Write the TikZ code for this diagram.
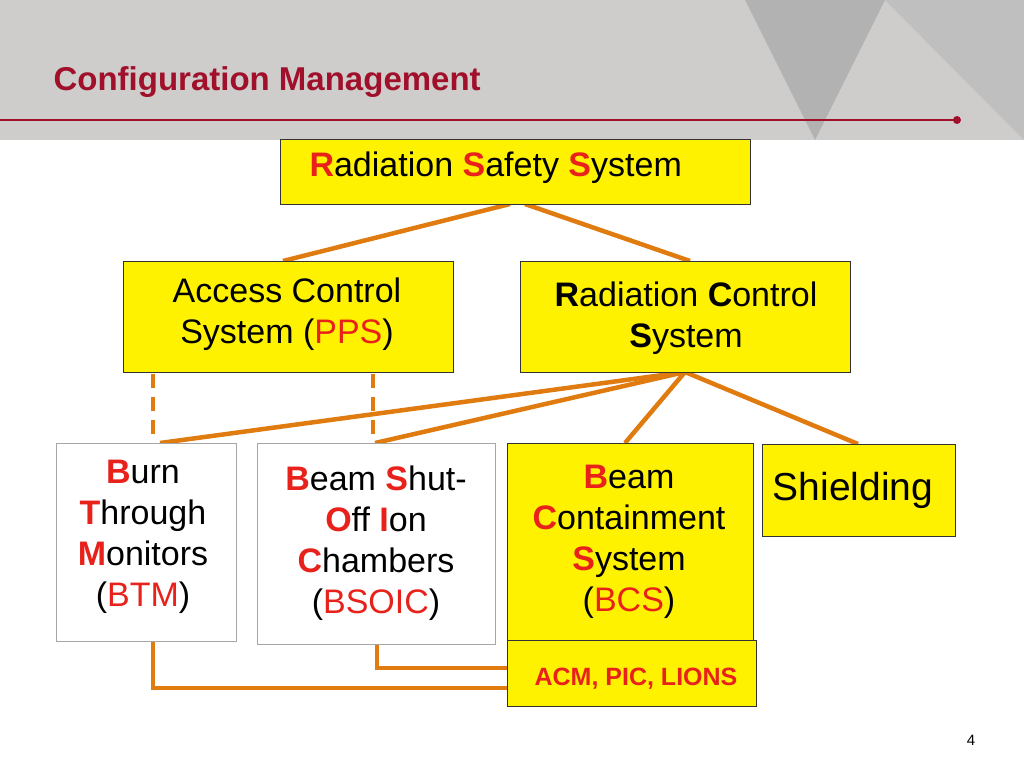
\documentclass[tikz,border=0pt]{standalone}
\usepackage{fontspec}
\setmainfont{Liberation Sans}
\definecolor{org}{HTML}{E07B10}
\definecolor{rd}{HTML}{A0102A}
\definecolor{hl}{HTML}{E8221B}
\definecolor{band}{HTML}{CFCDCC}
\begin{document}
\begin{tikzpicture}[x=1pt,y=-1pt,
 ybox/.style={draw=black!80,fill=yellow,line width=0.8pt},
 wbox/.style={draw=black!35,fill=white,line width=0.8pt},
 con/.style={draw=org,line width=4.5pt},
 txt/.style={font=\fontsize{34}{41}\selectfont,align=center}]
\useasboundingbox (0,0) rectangle (1024,768);
\fill[band] (0,0) rectangle (1024,140);
\fill[black!30] (745,0) -- (885,0) -- (815,140) -- cycle;
\fill[black!25] (885,0) -- (1024,0) -- (1024,140) -- cycle;
\node[anchor=west,text=rd,font=\fontsize{33}{40}\selectfont\bfseries] (title) at (50,82) {Configuration Management};
\draw[rd,line width=1.5pt] (0,120) -- (957,120);
\fill[rd] (957,120) circle (4);
% connectors
\draw[con] (510,204) -- (283,261);
\draw[con] (525,204) -- (690,261);
\draw[con] (685,372) -- (160,443);
\draw[con] (685,372) -- (375,443);
\draw[con] (685,372) -- (625,443);
\draw[con] (685,372) -- (858,444);
\draw[con,dash pattern=on 14pt off 9pt] (153,374) -- (153,443);
\draw[con,dash pattern=on 14pt off 9pt] (373,374) -- (373,443);
\draw[con] (153,641) -- (153,688) -- (510,688);
\draw[con] (377,644) -- (377,668) -- (510,668);
% boxes
\draw[ybox] (280,139) rectangle (750,204);
\node[anchor=west,font=\fontsize{34}{41}\selectfont] (rss) at (306,168) {\textcolor{hl}{\textbf{R}}adiation \textcolor{hl}{\textbf{S}}afety \textcolor{hl}{\textbf{S}}ystem};
\draw[ybox] (123,261) rectangle (453,372);
\node[txt] (acs) at (287,314) {Access Control\\System (\textcolor{hl}{PPS})};
\draw[ybox] (520,261) rectangle (850,372);
\node[txt] (rcs) at (686,318) {\textbf{R}adiation \textbf{C}ontrol\\\textbf{S}ystem};
\draw[wbox] (56,443) rectangle (236,641);
\node[txt,anchor=north] (btm) at (143,457) {\textcolor{hl}{\textbf{B}}urn\\\textcolor{hl}{\textbf{T}}hrough\\\textcolor{hl}{\textbf{M}}onitors\\(\textcolor{hl}{BTM})};
\draw[wbox] (257,443) rectangle (495,644);
\node[txt,anchor=north] (bsoic) at (376,462) {\textcolor{hl}{\textbf{B}}eam \textcolor{hl}{\textbf{S}}hut-\\\textcolor{hl}{\textbf{O}}ff \textcolor{hl}{\textbf{I}}on\\\textcolor{hl}{\textbf{C}}hambers\\(\textcolor{hl}{BSOIC})};
\draw[ybox] (507,443) rectangle (753,641);
\node[txt,anchor=north] (bcs) at (629,462) {\textcolor{hl}{\textbf{B}}eam\\\textcolor{hl}{\textbf{C}}ontainment\\\textcolor{hl}{\textbf{S}}ystem\\(\textcolor{hl}{BCS})};
\draw[ybox] (762,444) rectangle (955,536);
\node[font=\fontsize{39}{46}\selectfont] (sh) at (853,490) {Shielding};
\draw[ybox] (507,640) rectangle (756,706);
\node[font=\fontsize{25}{30}\selectfont\bfseries,text=hl] (acm) at (636,679) {ACM, PIC, LIONS};
\node[font=\fontsize{15}{18}\selectfont] (pg) at (971,740) {4};
\end{tikzpicture}
\end{document}
